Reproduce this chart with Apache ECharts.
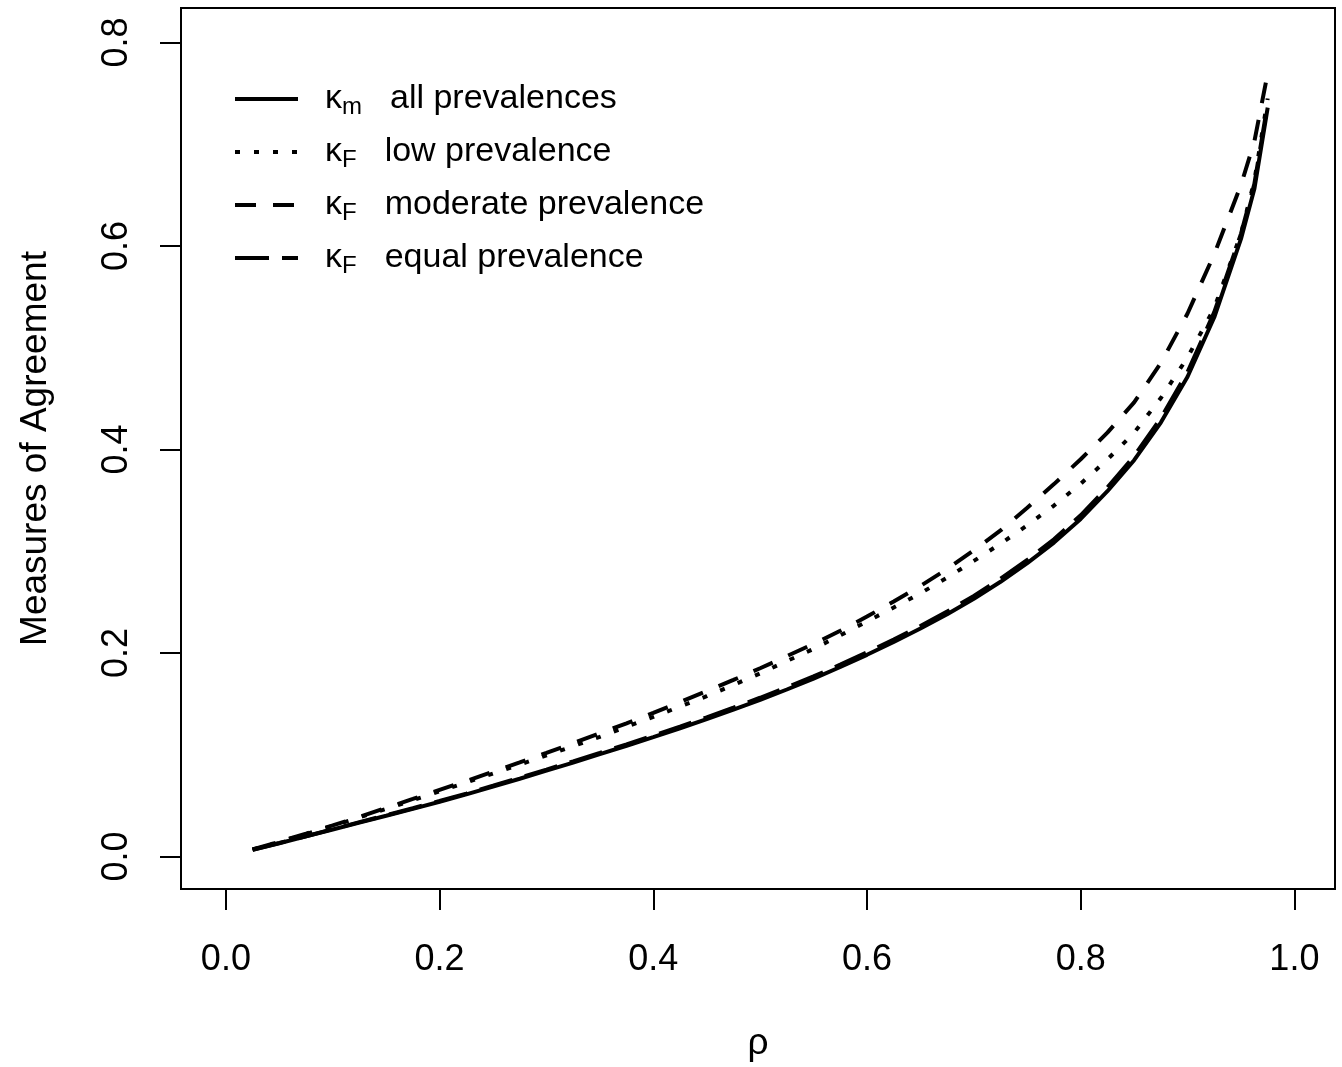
<!DOCTYPE html>
<html>
<head>
<meta charset="utf-8">
<title>Measures of Agreement</title>
<script src="https://cdn.jsdelivr.net/npm/echarts@6/dist/echarts.min.js"></script>
<style>
  html, body { margin: 0; padding: 0; background: #fff; }
  #chart { width: 1342px; height: 1067px; }
</style>
</head>
<body>
<div id="chart"></div>
<script>
// correlation values (x) shared by all curves
const rho = [0.025, 0.05, 0.075, 0.1, 0.125, 0.15, 0.175, 0.2, 0.225, 0.25,
  0.275, 0.3, 0.325, 0.35, 0.375, 0.4, 0.425, 0.45, 0.475, 0.5,
  0.525, 0.55, 0.575, 0.6, 0.625, 0.65, 0.675, 0.7, 0.725, 0.75,
  0.775, 0.8, 0.825, 0.85, 0.875, 0.9, 0.925, 0.95, 0.9625, 0.975]

const kappaM = [0.0065, 0.0130, 0.0197, 0.0265, 0.0333, 0.0400, 0.0468, 0.0538, 0.0610, 0.0686,
  0.0764, 0.0843, 0.0923, 0.1005, 0.1088, 0.1173, 0.1260, 0.1350, 0.1444, 0.1540,
  0.1641, 0.1748, 0.1862, 0.1982, 0.2108, 0.2240, 0.2380, 0.2533, 0.2700, 0.2883,
  0.3085, 0.3318, 0.3590, 0.3895, 0.4265, 0.4715, 0.5300, 0.6070, 0.6560, 0.7360]

const kappaLow = [0.0069, 0.0143, 0.0221, 0.0300, 0.0383, 0.0468, 0.0553, 0.0640, 0.0727, 0.0815,
  0.0903, 0.0993, 0.1084, 0.1176, 0.1275, 0.1372, 0.1473, 0.1575, 0.1686, 0.1800,
  0.1921, 0.2040, 0.2174, 0.2310, 0.2447, 0.2587, 0.2740, 0.2905, 0.3074, 0.3255,
  0.3449, 0.3664, 0.3902, 0.4165, 0.4506, 0.4905, 0.5390, 0.6120, 0.6640, 0.7450]

const kappaModerate = [0.0070, 0.0145, 0.0224, 0.0305, 0.0389, 0.0477, 0.0565, 0.0654, 0.0742, 0.0833,
  0.0924, 0.1017, 0.1113, 0.1211, 0.1309, 0.1412, 0.1517, 0.1625, 0.1735, 0.1850,
  0.1969, 0.2090, 0.2218, 0.2358, 0.2506, 0.2659, 0.2825, 0.3010, 0.3205, 0.3428,
  0.3660, 0.3904, 0.4166, 0.4463, 0.4850, 0.5337, 0.5920, 0.6600, 0.7026, 0.7700]

const kappaEqual = [0.0066, 0.0132, 0.0199, 0.0268, 0.0337, 0.0405, 0.0474, 0.0545, 0.0618, 0.0695,
  0.0774, 0.0854, 0.0935, 0.1018, 0.1102, 0.1188, 0.1276, 0.1367, 0.1462, 0.1560,
  0.1662, 0.1770, 0.1885, 0.2006, 0.2133, 0.2266, 0.2407, 0.2561, 0.2730, 0.2914,
  0.3118, 0.3353, 0.3627, 0.3935, 0.4308, 0.4762, 0.5350, 0.6120, 0.6610, 0.7400]

const seriesNames = ['all prevalences', 'low prevalence', 'moderate prevalence', 'equal prevalence']
const kappaSubs = ['m', 'F', 'F', 'F']
const xTicks = [0, 0.2, 0.4, 0.6, 0.8, 1.0]
const yTicks = [0, 0.2, 0.4, 0.6, 0.8]

const FONT = '"Liberation Sans", Arial, sans-serif'
// R lty: solid, dotted, dashed, longdash
const dashTypes = ['solid', [5, 14], [21, 17], [34, 13]]
const curves = [kappaM, kappaLow, kappaModerate, kappaEqual]

const chart = echarts.init(document.getElementById('chart'))

const series = curves.map((vals, i) => {
  return {
    name: seriesNames[i],
    type: 'line',
    data: rho.map((r, j) => [r, vals[j]]),
    symbol: 'none',
    showSymbol: false,
    smooth: false,
    itemStyle: { color: '#000' },
    lineStyle: { color: '#000', width: 4, type: dashTypes[i] },
    z: 10 - i
  }
})

const option = {
  animation: false,
  backgroundColor: '#fff',
  grid: {
    left: 181,
    top: 8,
    right: 7,
    bottom: 178,
    show: true,
    borderColor: '#000',
    borderWidth: 2,
    containLabel: false
  },
  legend: {
    orient: 'vertical',
    left: 233,
    top: 79,
    padding: 0,
    itemWidth: 63,
    itemHeight: 14,
    itemGap: 13,
    selectedMode: false,
    data: seriesNames,
    itemStyle: { opacity: 0 },
    lineStyle: { width: 4, color: '#000' },
    formatter: name => {
      const i = seriesNames.indexOf(name)
      return '{k|κ}{s|' + kappaSubs[i] + '}{t|' + name + '}'
    },
    textStyle: {
      color: '#000',
      fontFamily: FONT,
      rich: {
        k: { fontSize: 34, fontFamily: FONT, color: '#000', lineHeight: 30, padding: [0, 0, 0, 22] },
        s: { fontSize: 24, fontFamily: FONT, color: '#000', lineHeight: 30, padding: [16, 0, 0, 0] },
        t: { fontSize: 34, fontFamily: FONT, color: '#000', lineHeight: 30, padding: [0, 0, 0, 28] }
      }
    }
  },
  xAxis: {
    type: 'value',
    min: -0.042,
    max: 1.038,
    name: 'ρ',
    nameLocation: 'middle',
    nameGap: 136,
    nameTextStyle: { fontSize: 37, fontFamily: FONT, color: '#000' },
    axisLine: { show: true, onZero: false, lineStyle: { color: '#000', width: 2 } },
    axisTick: {
      show: true,
      length: 21,
      customValues: xTicks,
      lineStyle: { color: '#000', width: 2 }
    },
    axisLabel: {
      show: true,
      customValues: xTicks,
      margin: 53,
      fontSize: 36,
      fontFamily: FONT,
      color: '#000',
      formatter: v => v.toFixed(1)
    },
    splitLine: { show: false }
  },
  yAxis: {
    type: 'value',
    min: -0.032,
    max: 0.834,
    name: 'Measures of Agreement',
    nameLocation: 'middle',
    nameGap: 127,
    nameTextStyle: { fontSize: 37, fontFamily: FONT, color: '#000' },
    axisLine: { show: true, onZero: false, lineStyle: { color: '#000', width: 2 } },
    axisTick: {
      show: true,
      length: 21,
      customValues: yTicks,
      lineStyle: { color: '#000', width: 2 }
    },
    axisLabel: {
      show: true,
      customValues: yTicks,
      rotate: 90,
      margin: 46,
      fontSize: 36,
      fontFamily: FONT,
      color: '#000',
      formatter: v => v.toFixed(1)
    },
    splitLine: { show: false }
  },
  series: series
}

chart.setOption(option)
</script>
</body>
</html>
